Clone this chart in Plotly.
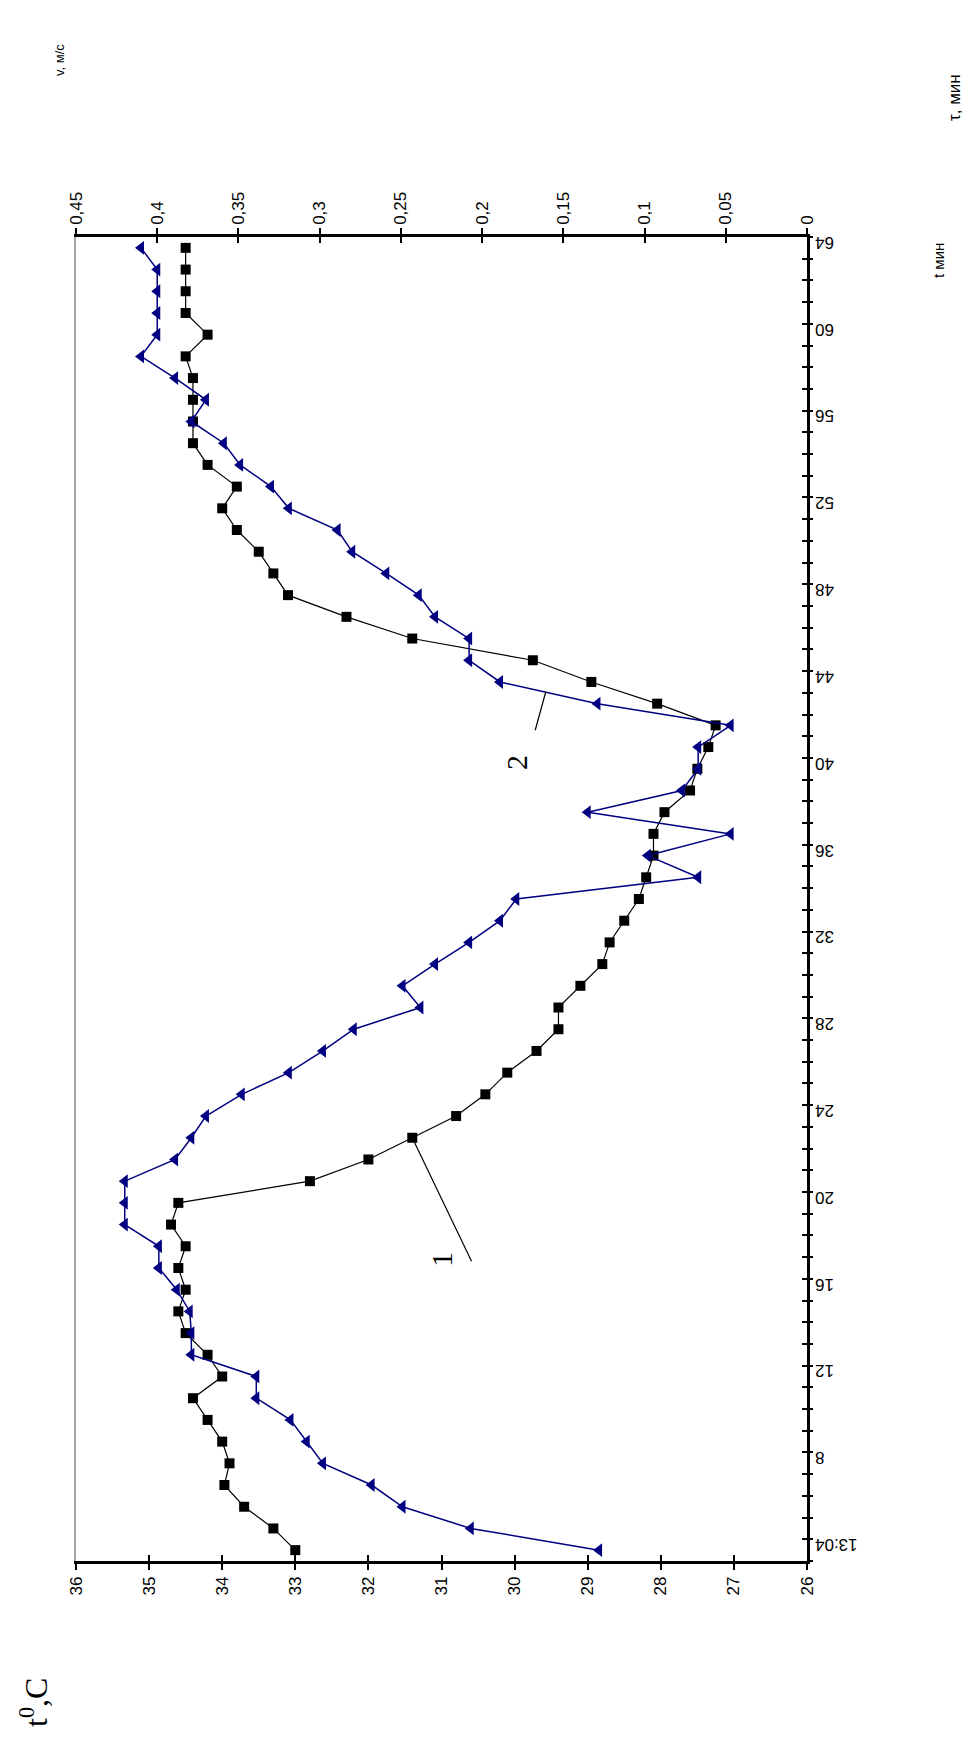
import plotly.graph_objects as go

# ---------------- data ----------------
minutes = list(range(4, 65))
time_labels = ["13:04"] + [str(m) for m in range(8, 65, 4)]
time_label_vals = list(range(4, 65, 4))

# series 1: temperature, deg C (black squares)
temp = [33.0, 33.3, 33.7, 33.97, 33.9, 34.0, 34.2, 34.4, 34.0, 34.2,
        34.5, 34.6, 34.5, 34.6, 34.5, 34.7, 34.6, 32.8, 32.0, 31.4,
        30.8, 30.4, 30.1, 29.7, 29.4, 29.4, 29.1, 28.8, 28.7, 28.5,
        28.3, 28.2, 28.1, 28.1, 27.95, 27.6, 27.5, 27.35, 27.25, 28.05,
        28.95, 29.75, 31.4, 32.3, 33.1, 33.3, 33.5, 33.8, 34.0, 33.8,
        34.2, 34.4, 34.4, 34.4, 34.4, 34.5, 34.2, 34.5, 34.5, 34.5, 34.5]

# series 2: air velocity, m/s (blue triangles)
vel = [0.128, 0.207, 0.249, 0.268, 0.298, 0.308, 0.318, 0.339, 0.339, 0.379,
       0.379, 0.380, 0.388, 0.399, 0.399, 0.420, 0.420, 0.420, 0.389, 0.379,
       0.370, 0.348, 0.319, 0.298, 0.279, 0.238, 0.249, 0.229, 0.208, 0.189,
       0.179, 0.067, 0.098, 0.047, 0.135, 0.077, 0.067, 0.067, 0.047, 0.129,
       0.189, 0.208, 0.208, 0.229, 0.239, 0.259, 0.280, 0.289, 0.319, 0.330,
       0.349, 0.359, 0.379, 0.370, 0.389, 0.410, 0.400, 0.400, 0.400, 0.400, 0.410]

temp_ticks = list(range(26, 37))
vel_ticks = [0, 0.05, 0.1, 0.15, 0.2, 0.25, 0.3, 0.35, 0.4, 0.45]
vel_ticktext = ["0", "0,05", "0,1", "0,15", "0,2", "0,25", "0,3", "0,35", "0,4", "0,45"]
cat_bounds = [m - 0.5 for m in range(4, 66)]

# ---------------- layout geometry ----------------
W, H = 980, 1764
L, R, T, B = 68, 799, 229, 1553


def px(x):
    return (x - L) / (R - L)


def py(y):
    return (B - y) / (B - T)


SANS = "Liberation Sans, Arial, sans-serif"
SERIF = "Liberation Serif, Times New Roman, serif"
BLUE = "#000080"

fig = go.Figure()
fig.add_trace(go.Scatter(
    x=temp, y=minutes, xaxis="x", yaxis="y", mode="lines+markers",
    line=dict(color="black", width=1.2),
    marker=dict(symbol="square", size=10, color="black"),
    name="1", showlegend=False))
fig.add_trace(go.Scatter(
    x=vel, y=minutes, xaxis="x2", yaxis="y", mode="lines+markers",
    line=dict(color=BLUE, width=1.5),
    marker=dict(symbol="triangle-left", size=12, color=BLUE),
    name="2", showlegend=False))
# empty traces so that the helper (tick / border) axes get drawn
for xa, ya in [("x3", "y"), ("x4", "y"), ("x", "y2"), ("x", "y3"),
               ("x", "y4"), ("x", "y5")]:
    fig.add_trace(go.Scatter(x=[], y=[], xaxis=xa, yaxis=ya, mode="lines",
                             showlegend=False, hoverinfo="skip"))

tickfont = dict(family=SANS, size=17, color="black")
common = dict(showgrid=False, zeroline=False)

fig.update_layout(
    width=W, height=H,
    margin=dict(l=L, r=W - R, t=T, b=H - B),
    paper_bgcolor="white", plot_bgcolor="white",
    showlegend=False,
    xaxis=dict(range=[36, 26], tickmode="array", tickvals=temp_ticks,
               ticktext=[str(t) for t in temp_ticks], tickangle=-90,
               ticks="outside", ticklen=6, tickwidth=1.5, tickcolor="black",
               showline=True, linecolor="black", linewidth=2.5,
               tickfont=tickfont, anchor="y", side="bottom", **common),
    xaxis3=dict(range=[36, 26], tickmode="array", tickvals=temp_ticks,
                ticks="inside", ticklen=6, tickwidth=1.5, tickcolor="black",
                showticklabels=False, showline=False, overlaying="x",
                anchor="y", side="bottom", **common),
    xaxis2=dict(range=[0.45, 0], tickmode="array", tickvals=vel_ticks,
                ticktext=vel_ticktext, tickangle=-90,
                ticks="outside", ticklen=6, tickwidth=1.5, tickcolor="black",
                showline=True, linecolor="black", linewidth=2.5,
                tickfont=tickfont, overlaying="x", anchor="y", side="top", **common),
    xaxis4=dict(range=[0.45, 0], tickmode="array", tickvals=vel_ticks,
                ticks="inside", ticklen=6, tickwidth=1.5, tickcolor="black",
                showticklabels=False, showline=False, overlaying="x",
                anchor="y", side="top", **common),
    yaxis=dict(range=[3.5, 64.5], ticks="", showticklabels=False,
               showline=True, linecolor="black", linewidth=2.5,
               anchor="x", side="right", **common),
    yaxis2=dict(range=[3.5, 64.5], tickmode="array", tickvals=cat_bounds,
                ticks="outside", ticklen=5, tickwidth=1.5, tickcolor="black",
                showticklabels=False, showline=False, overlaying="y",
                anchor="x", side="right", **common),
    yaxis3=dict(range=[3.5, 64.5], tickmode="array", tickvals=cat_bounds,
                ticks="inside", ticklen=5, tickwidth=1.5, tickcolor="black",
                showticklabels=False, showline=False, overlaying="y",
                anchor="x", side="right", **common),
    yaxis4=dict(range=[3.5, 64.5], ticks="", showticklabels=False,
                showline=True, linecolor="#a6a6a6", linewidth=2,
                overlaying="y", anchor="x", side="left", **common),
    # upside-down time labels, sitting just right of the time axis
    yaxis5=dict(range=[3.5, 64.5], tickmode="array", tickvals=time_label_vals,
                ticktext=time_labels, tickangle=180, ticks="", ticklen=0,
                showline=False, overlaying="y", anchor="free", position=1.0,
                side="left", ticklabelstandoff=-8, tickfont=tickfont, **common),
)

ann = []
# leader line for curve 1
i23 = minutes.index(23)
ann.append(dict(x=temp[i23], y=23, xref="x", yref="y", text="",
                showarrow=True, arrowhead=0, arrowwidth=1.2, arrowcolor="black",
                ax=60, ay=125, standoff=0))
ann.append(dict(x=px(433), y=py(1252), xref="paper", yref="paper", text="1",
                textangle=-90, showarrow=False, xanchor="center", yanchor="middle",
                font=dict(family=SERIF, size=30, color="black")))
# leader line for curve 2
ann.append(dict(x=0.1608, y=43.55, xref="x2", yref="y", text="",
                showarrow=True, arrowhead=0, arrowwidth=1.2, arrowcolor="black",
                ax=-11, ay=40, standoff=0))
ann.append(dict(x=px(508), y=py(755), xref="paper", yref="paper", text="2",
                textangle=-90, showarrow=False, xanchor="center", yanchor="middle",
                font=dict(family=SERIF, size=30, color="black")))
# axis titles
ann.append(dict(x=px(52), y=py(52), xref="paper", yref="paper", text="v, м/с",
                textangle=-90, showarrow=False, xanchor="center", yanchor="middle",
                font=dict(family=SANS, size=13, color="black")))
ann.append(dict(x=px(947), y=py(90), xref="paper", yref="paper", text="τ, мин",
                textangle=-90, showarrow=False, xanchor="center", yanchor="middle",
                font=dict(family=SANS, size=17, color="black")))
ann.append(dict(x=px(931), y=py(253), xref="paper", yref="paper", text="t мин",
                textangle=-90, showarrow=False, xanchor="center", yanchor="middle",
                font=dict(family=SANS, size=15, color="black")))
ann.append(dict(x=px(26), y=py(1695), xref="paper", yref="paper",
                text="t<sup>0</sup>,C", textangle=-90, showarrow=False,
                xanchor="center", yanchor="middle",
                font=dict(family=SERIF, size=32, color="black")))
fig.update_layout(annotations=ann)

fig.write_html("out.html")
